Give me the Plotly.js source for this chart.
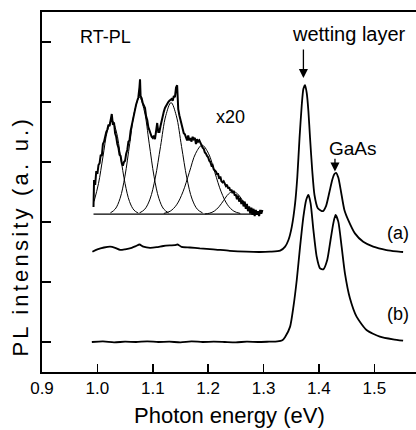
<!DOCTYPE html>
<html><head><meta charset="utf-8">
<script src="https://cdn.plot.ly/plotly-3.0.1.min.js"></script>
<style>
html,body{margin:0;padding:0;background:#fff;}
#chart{width:416px;height:430px;}
#chart g.annotation[data-index="1"] text{letter-spacing:3.2px;}
</style>
</head><body><div id="chart"></div>
<script>
// Spectrum (a)
const energyA = [0.991,1.000,1.012,1.023,1.032,1.041,1.050,1.062,1.070,1.076,1.083,1.095,1.107,1.119,1.131,1.140,1.145,1.152,1.167,1.185,1.209,1.239,1.269,1.293,1.312,1.330,1.339,1.345,1.351,1.357,1.361,1.365,1.369,1.372,1.375,1.378,1.381,1.384,1.388,1.392,1.398,1.407,1.413,1.419,1.424,1.428,1.431,1.435,1.440,1.446,1.453,1.465,1.480,1.498,1.522,1.540,1.552];
const intensityA = [1.505,1.544,1.575,1.59,1.57,1.535,1.545,1.57,1.60,1.625,1.59,1.57,1.58,1.60,1.61,1.615,1.625,1.585,1.575,1.56,1.545,1.52,1.505,1.50,1.506,1.522,1.59,1.70,1.92,2.31,2.75,3.40,3.95,4.22,4.28,4.15,3.85,3.40,2.85,2.45,2.23,2.18,2.27,2.50,2.70,2.80,2.82,2.74,2.50,2.20,2.03,1.81,1.67,1.59,1.533,1.51,1.50];
// Spectrum (b)
const energyB = [0.990,1.01,1.03,1.05,1.07,1.09,1.11,1.13,1.15,1.17,1.19,1.21,1.23,1.25,1.27,1.29,1.31,1.325,1.334,1.339,1.348,1.354,1.360,1.366,1.372,1.377,1.381,1.385,1.390,1.396,1.402,1.408,1.415,1.421,1.426,1.430,1.435,1.441,1.447,1.456,1.468,1.486,1.510,1.534,1.552];
const intensityB = [0.00,0.01,-0.005,0.005,0.0,0.01,0.0,0.005,-0.005,0.01,0.0,0.005,0.0,-0.005,0.005,0.0,0.005,0.01,0.03,0.083,0.256,0.589,1.033,1.589,2.089,2.367,2.45,2.31,1.87,1.42,1.228,1.21,1.367,1.70,1.978,2.117,2.006,1.589,1.144,0.728,0.422,0.20,0.089,0.044,0.022];
// x20 magnified low-energy spectrum
const energyX20 = [0.993,0.994,0.996,0.998,1.000,1.002,1.004,1.006,1.008,1.010,1.012,1.014,1.016,1.018,1.020,1.022,1.024,1.026,1.028,1.030,1.032,1.034,1.036,1.038,1.040,1.042,1.044,1.046,1.048,1.050,1.052,1.054,1.056,1.058,1.060,1.062,1.064,1.066,1.068,1.070,1.072,1.074,1.076,1.077,1.078,1.080,1.082,1.084,1.086,1.088,1.090,1.092,1.094,1.096,1.098,1.100,1.102,1.104,1.106,1.108,1.110,1.112,1.114,1.116,1.118,1.120,1.122,1.124,1.126,1.128,1.130,1.132,1.134,1.136,1.138,1.140,1.142,1.144,1.145,1.146,1.148,1.150,1.152,1.154,1.156,1.158,1.160,1.162,1.164,1.166,1.168,1.170,1.172,1.174,1.176,1.178,1.180,1.182,1.184,1.186,1.188,1.190,1.192,1.194,1.196,1.198,1.200,1.202,1.204,1.206,1.208,1.210,1.212,1.214,1.216,1.218,1.220,1.222,1.224,1.226,1.228,1.230,1.232,1.234,1.236,1.238,1.240,1.242,1.244,1.246,1.248,1.250,1.252,1.254,1.256,1.258,1.260,1.262,1.264,1.266,1.268,1.270,1.272,1.274,1.276,1.278,1.280,1.282,1.284,1.286,1.288,1.290,1.292,1.294,1.296,1.298];
const intensityX20 = [2.25,2.70,2.62,2.85,2.80,2.95,2.98,3.12,3.10,3.30,3.34,3.45,3.50,3.54,3.62,3.60,3.72,3.80,3.62,3.66,3.48,3.42,3.30,3.24,3.12,3.10,2.98,2.94,3.00,3.02,3.14,3.20,3.34,3.36,3.52,3.62,3.72,3.82,3.90,3.96,4.02,4.08,4.25,4.38,4.10,4.06,3.98,3.94,3.90,3.76,3.70,3.58,3.52,3.44,3.42,3.40,3.44,3.38,3.50,3.65,3.50,3.50,3.60,3.70,3.80,3.84,3.90,3.94,3.96,4.00,4.02,4.04,4.05,4.02,4.10,4.08,4.24,4.28,3.95,3.88,3.78,3.70,3.62,3.56,3.48,3.46,3.40,3.36,3.44,3.36,3.40,3.34,3.42,3.38,3.40,3.30,3.38,3.34,3.36,3.30,3.28,3.24,3.22,3.16,3.14,3.10,3.08,3.02,3.00,2.94,2.95,2.88,2.86,2.84,2.80,2.80,2.72,2.76,2.68,2.66,2.68,2.62,2.60,2.62,2.56,2.58,2.52,2.54,2.48,2.52,2.44,2.46,2.38,2.44,2.34,2.40,2.30,2.36,2.26,2.34,2.22,2.30,2.18,2.26,2.14,2.24,2.12,2.22,2.10,2.20,2.12,2.18,2.10,2.20,2.14,2.20];
// Fitted component peaks
const fit1Energy = [0.994,1.002,1.010,1.018,1.026,1.034,1.042,1.050,1.058,1.066,1.074];
const fit1Intensity = [2.342,2.64,3.082,3.516,3.70,3.516,3.082,2.64,2.342,2.199,2.147];
const fit2Energy = [1.0235,1.03225,1.041,1.04975,1.0585,1.06725,1.076,1.08475,1.0935,1.10225,1.111,1.11975,1.1285];
const fit2Intensity = [2.152,2.216,2.394,2.763,3.313,3.851,4.08,3.851,3.313,2.763,2.394,2.216,2.152];
const fit3Energy = [1.076,1.0855,1.095,1.1045,1.114,1.1235,1.133,1.1425,1.152,1.1615,1.171,1.1805,1.19];
const fit3Intensity = [2.151,2.212,2.382,2.734,3.258,3.771,3.99,3.771,3.258,2.734,2.382,2.212,2.151];
const fit4Energy = [1.12,1.1315,1.143,1.1545,1.166,1.1775,1.189,1.2005,1.212,1.2235,1.235,1.2465,1.258];
const fit4Intensity = [2.143,2.18,2.286,2.503,2.827,3.145,3.28,3.145,2.827,2.503,2.286,2.18,2.143];
const fit5Energy = [1.194,1.2025,1.211,1.2195,1.228,1.2365,1.245,1.2535,1.262,1.2705,1.279,1.2875];
const fit5Intensity = [2.134,2.147,2.181,2.253,2.36,2.465,2.51,2.465,2.36,2.253,2.181,2.147];
const fitBaseEnergy = [0.993,1.280];
const fitBaseIntensity = [2.13,2.13];
// Axis ticks
const xTickVals = [0.9,1.0,1.1,1.2,1.3,1.4,1.5];
const xTickText = ['0.9','1.0','1.1','1.2','1.3','1.4','1.5'];
const yTickVals = [0,1,2,3,4,5];

const FONT = '"Liberation Sans", Arial, Helvetica, sans-serif';
const thin = {color:'#000', width:1};
const traces = [
  {x: fitBaseEnergy, y: fitBaseIntensity, mode:'lines', line:{color:'#000', width:1.2}},
  {x: fit1Energy, y: fit1Intensity, mode:'lines', line:Object.assign({shape:'spline'}, thin)},
  {x: fit2Energy, y: fit2Intensity, mode:'lines', line:Object.assign({shape:'spline'}, thin)},
  {x: fit3Energy, y: fit3Intensity, mode:'lines', line:Object.assign({shape:'spline'}, thin)},
  {x: fit4Energy, y: fit4Intensity, mode:'lines', line:Object.assign({shape:'spline'}, thin)},
  {x: fit5Energy, y: fit5Intensity, mode:'lines', line:Object.assign({shape:'spline'}, thin)},
  {x: energyX20, y: intensityX20, mode:'lines', line:{color:'#000', width:2}},
  {x: energyA, y: intensityA, mode:'lines', line:{color:'#000', width:1.8, shape:'spline', smoothing:0.6}},
  {x: energyB, y: intensityB, mode:'lines', line:{color:'#000', width:1.8, shape:'spline', smoothing:0.6}}
];

const txt = (text, x, y, size) => ({text:text, x:x, y:y, xref:'x', yref:'y', showarrow:false, font:{family:FONT, size:size, color:'#000'}});
const layout = {
  width:416, height:430,
  margin:{l:42, r:0, t:12, b:58},
  showlegend:false,
  paper_bgcolor:'#fff', plot_bgcolor:'#fff',
  font:{family:FONT, color:'#000', size:17},
  xaxis:{range:[0.9,1.5753], tickvals:xTickVals, ticktext:xTickText, ticks:'inside', ticklen:8, tickwidth:1.5, tickcolor:'#000',
    showline:true, linecolor:'#000', linewidth:1.8, mirror:true, showgrid:false, zeroline:false, tickfont:{family:FONT, size:17, color:'#000'}},
  yaxis:{range:[-0.5,5.5], tickvals:yTickVals, showticklabels:false, ticks:'inside', ticklen:9, tickwidth:1.5, tickcolor:'#000',
    showline:true, linecolor:'#000', linewidth:1.8, showgrid:false, zeroline:false},
  annotations:[
    {text:'Photon energy (eV)', xref:'paper', yref:'paper', x:0.5, y:-0.122, xanchor:'center', yanchor:'middle', showarrow:false, font:{family:FONT, size:22, color:'#000'}},
    {text:'PL intensity (a. u.)', xref:'paper', yref:'paper', x:-0.060, y:0.375, xanchor:'center', yanchor:'middle', textangle:-90, showarrow:false, font:{family:FONT, size:22, color:'#000'}},
    txt('RT-PL', 1.015, 5.09, 18),
    txt('x20', 1.241, 3.75, 18),
    txt('wetting layer', 1.455, 5.13, 20),
    txt('GaAs', 1.462, 3.22, 19),
    txt('(a)', 1.542, 1.82, 18),
    txt('(b)', 1.542, 0.47, 18),
    {text:'', x:1.372, y:4.40, ax:1.372, ay:4.90, xref:'x', yref:'y', axref:'x', ayref:'y', showarrow:true, arrowhead:2, arrowsize:1.4, arrowwidth:1.3, arrowcolor:'#000', standoff:0},
    {text:'', x:1.429, y:2.84, ax:1.429, ay:3.08, xref:'x', yref:'y', axref:'x', ayref:'y', showarrow:true, arrowhead:2, arrowsize:1.4, arrowwidth:1.3, arrowcolor:'#000', standoff:0}
  ]
};
Plotly.newPlot('chart', traces, layout, {displayModeBar:false, staticPlot:true});
</script></body></html>
